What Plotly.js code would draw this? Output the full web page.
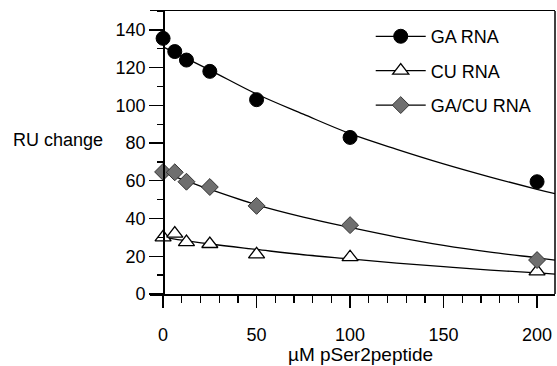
<!DOCTYPE html>
<html>
<head>
<meta charset="utf-8">
<script src="https://cdn.plot.ly/plotly-3.0.1.min.js"></script>
<style>html,body{margin:0;padding:0;background:#fff;}#chart{width:557px;height:366px;}</style>
</head>
<body>
<div id="chart"></div>
<script>
// measured points
var concentration = [0, 6.25, 12.5, 25, 50, 100, 200];
var gaRNA   = [135.5, 128.5, 124, 118, 103, 83, 59.5];
var cuRNA   = [30, 32, 27.5, 26.5, 21, 19.5, 12];
var gacuRNA = [64.7, 64.5, 59.5, 56.7, 46.7, 36.5, 18];

// fitted curves
var curveX    = [0, 25, 50, 75, 100, 125, 150, 175, 200, 209.6];
var gaCurve   = [131, 118.7, 106, 95.3, 85, 76.7, 69, 62, 55.5, 53.2];
var cuCurve   = [30, 26.5, 23.6, 20.8, 18.6, 16.4, 14.5, 12.7, 11.2, 10.5];
var gacuCurve = [64.5, 55.5, 47.3, 40.8, 35.3, 30.2, 25.8, 22.2, 19.2, 18.0];

var seriesNames = ['GA RNA', 'CU RNA', 'GA/CU RNA'];
var xTicks = [0, 50, 100, 150, 200];
var yTicks = [0, 20, 40, 60, 80, 100, 120, 140];
var xTitle = 'µM pSer2peptide';
var yTitle = 'RU change';

var font = 'Liberation Sans, Arial, sans-serif';
var markers = [
  {symbol: 'circle', size: 14, color: '#000', line: {color: '#000', width: 1}},
  {symbol: 'triangle-up', size: 14, color: '#fff', line: {color: '#000', width: 1.3}},
  {symbol: 'diamond', size: 13, color: '#6f6f6f', line: {color: '#333', width: 1}}
];

var curves = [gaCurve, cuCurve, gacuCurve];
var pts = [gaRNA, cuRNA, gacuRNA];
var traces = [];
for (var i = 0; i < 3; i++) {
  traces.push({x: curveX, y: curves[i], mode: 'lines', line: {color: '#000', width: 1.3, shape: 'spline'},
    showlegend: false, hoverinfo: 'skip', cliponaxis: false});
}
for (var i = 0; i < 3; i++) {
  traces.push({x: concentration, y: pts[i], mode: 'markers', marker: markers[i],
    showlegend: false, cliponaxis: false});
}
for (var i = 0; i < 3; i++) {
  traces.push({x: [null], y: [null], mode: 'lines+markers', name: seriesNames[i],
    marker: markers[i], line: {color: '#000', width: 1.3}, legendgroup: 'g' + i, showlegend: true});
}

var layout = {
  width: 557, height: 366,
  margin: {l: 150, r: 2, t: 11, b: 72},
  paper_bgcolor: '#fff', plot_bgcolor: '#fff',
  font: {family: font, size: 18, color: '#000'},
  showlegend: true,
  legend: {x: 0.545, y: 0.975, xanchor: 'left', yanchor: 'top', bgcolor: 'rgba(0,0,0,0)',
    font: {family: font, size: 18}, tracegroupgap: 8, traceorder: 'grouped', itemwidth: 50},
  xaxis: {range: [-7, 209.6], tickvals: xTicks, ticks: 'outside', ticklen: 12, tickwidth: 1.3,
    tickcolor: '#000', showline: true, linecolor: '#000', linewidth: 1.5, mirror: true,
    showgrid: false, zeroline: false, ticklabelstandoff: 12,
    minor: {dtick: 10, ticks: 'outside', ticklen: 7, tickwidth: 1.3, tickcolor: '#000', showgrid: false},
    tickfont: {family: font, size: 18}},
  yaxis: {range: [0, 150], tickvals: yTicks, ticks: 'outside', ticklen: 14, tickwidth: 1.3,
    tickcolor: '#000', showline: true, linecolor: '#000', linewidth: 1.5,
    anchor: 'free', position: 7 / 216.6,
    showgrid: false, zeroline: false,
    minor: {dtick: 10, ticks: 'outside', ticklen: 6, tickwidth: 1.3, tickcolor: '#000', showgrid: false},
    tickfont: {family: font, size: 18}},
  shapes: [{type: 'line', xref: 'paper', yref: 'paper', x0: 1, x1: 1, y0: 0, y1: 1,
    line: {color: '#000', width: 1.5}}],
  annotations: [
    {text: yTitle, xref: 'paper', yref: 'paper', x: -0.343, y: 0.545,
      xanchor: 'left', yanchor: 'middle', showarrow: false, font: {family: font, size: 18}},
    {text: xTitle, xref: 'paper', yref: 'paper', x: (360 - 150) / 405, y: -0.215,
      xanchor: 'center', yanchor: 'middle', showarrow: false, font: {family: font, size: 19}}
  ]
};

Plotly.newPlot('chart', traces, layout, {displayModeBar: false, staticPlot: true});
</script>
</body>
</html>
